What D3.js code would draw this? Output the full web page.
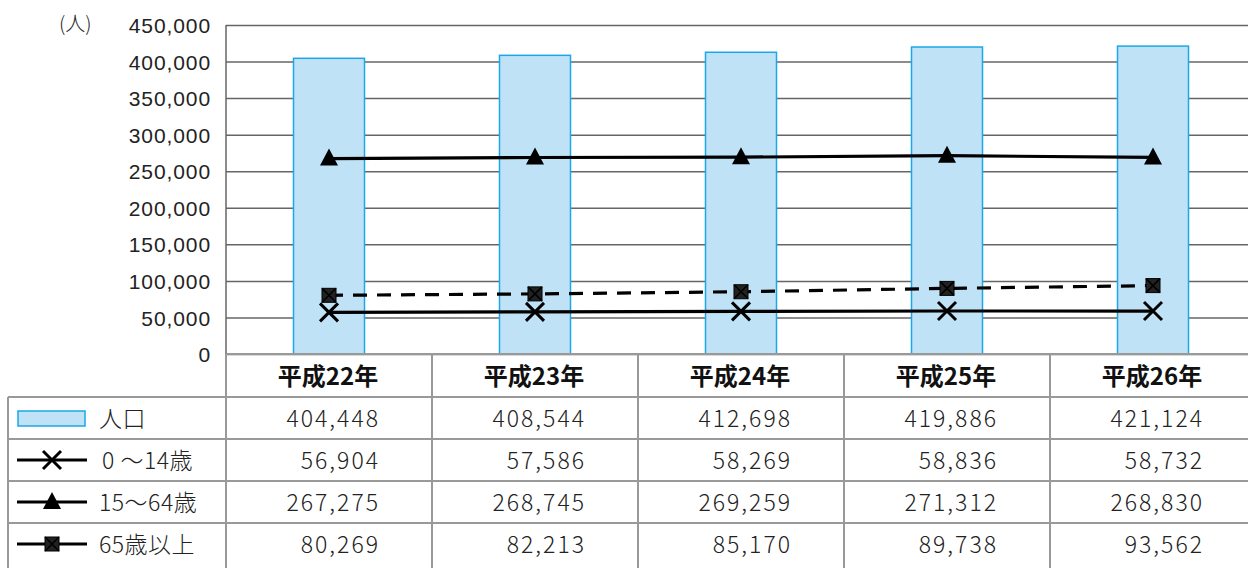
<!DOCTYPE html>
<html>
<head>
<meta charset="UTF-8">
<title>人口の推移</title>
<script src="https://d3js.org/d3.v7.min.js"></script>
<style>
  body { margin: 0; background: #fff; }
  svg { font-family: "Noto Sans CJK JP", "Noto Sans", sans-serif; }
  .grid line { stroke: #666; stroke-width: 1.5; }
  .grid path { display: none; }
  .grid .tick text { font-size: 21px; fill: #222; font-weight: 300; letter-spacing: 0.9px; }
  .num { font-weight: 300; letter-spacing: 2px; }
</style>
</head>
<body>
<svg width="1248" height="568"></svg>
<script>
  // データ
  var years = ["平成22年", "平成23年", "平成24年", "平成25年", "平成26年"]
  var total = [404448, 408544, 412698, 419886, 421124]
  var age0_14 = [56904, 57586, 58269, 58836, 58732]
  var age15_64 = [267275, 268745, 269259, 271312, 268830]
  var age65 = [80269, 82213, 85170, 89738, 93562]
  var yTicks = [0, 50000, 100000, 150000, 200000, 250000, 300000, 350000, 400000, 450000]

  var svg = d3.select("svg")
  var pLeft = 226, pRight = 1256, pTop = 25, pBottom = 354
  var rowH = 42, headH = 43

  var x = d3.scaleBand().domain(years).range([pLeft, pRight])
  var y = d3.scaleLinear().domain([0, 450000]).range([pBottom, pTop])

  // グリッドと軸
  svg.append("g")
    .attr("class", "grid")
    .attr("transform", "translate(" + pLeft + ",0)")
    .call(d3.axisLeft(y).tickValues(yTicks).tickSize(-(pRight - pLeft)).tickPadding(16)
      .tickFormat(d3.format(",")))
    .call(function(g) { g.selectAll(".tick text").attr("x", -15).attr("dy", "0.36em") })

  svg.append("line").attr("x1", pLeft).attr("x2", pLeft).attr("y1", pTop).attr("y2", pBottom)
    .attr("stroke", "#666").attr("stroke-width", 1.5)

  svg.append("text").attr("x", 59).attr("y", 31).attr("font-size", 20).attr("font-weight", 300)
    .attr("fill", "#222").text("(人)")

  // 棒（人口）
  var bw = 71
  svg.selectAll("rect.bar")
    .data(total)
    .enter().append("rect")
    .attr("class", "bar")
    .attr("x", function(d, i) { return x(years[i]) + x.bandwidth() / 2 - bw / 2 })
    .attr("width", bw)
    .attr("y", function(d) { return y(d) })
    .attr("height", function(d) { return pBottom - y(d) })
    .attr("fill", "#bfe2f7")
    .attr("stroke", "#1ba8e6")
    .attr("stroke-width", 1.5)

  var cx = function(d, i) { return x(years[i]) + x.bandwidth() / 2 }
  var line = d3.line().x(cx).y(function(d) { return y(d) })

  function drawLine(data, dash) {
    svg.append("path").datum(data)
      .attr("d", line)
      .attr("fill", "none")
      .attr("stroke", "#000")
      .attr("stroke-width", 3.2)
      .attr("stroke-dasharray", dash ? "14,10" : null)
  }
  drawLine(age65, true)
  drawLine(age0_14, false)
  drawLine(age15_64, false)

  // マーカー
  function markX(g, px, py) {
    var s = 9
    g.append("path").attr("d", "M" + (px - s) + "," + (py - s) + "L" + (px + s) + "," + (py + s) +
      "M" + (px + s) + "," + (py - s) + "L" + (px - s) + "," + (py + s))
      .attr("stroke", "#000").attr("stroke-width", 3).attr("fill", "none")
  }
  function markTri(g, px, py) {
    g.append("path").attr("d", "M" + px + "," + (py - 10) + "L" + (px + 9) + "," + (py + 7) + "L" + (px - 9) + "," + (py + 7) + "Z")
      .attr("fill", "#000")
  }
  function markSq(g, px, py) {
    var s = 7
    g.append("rect").attr("x", px - s).attr("y", py - s).attr("width", 2 * s).attr("height", 2 * s)
      .attr("fill", "#222").attr("stroke", "#000").attr("stroke-width", 1)
    g.append("path").attr("d", "M" + (px - s) + "," + (py - s) + "L" + (px + s) + "," + (py + s) +
      "M" + (px + s) + "," + (py - s) + "L" + (px - s) + "," + (py + s))
      .attr("stroke", "#000").attr("stroke-width", 1.5)
  }
  var mk = svg.append("g")
  age65.forEach(function(d, i) { markSq(mk, cx(d, i), y(d)) })
  age0_14.forEach(function(d, i) { markX(mk, cx(d, i), y(d)) })
  age15_64.forEach(function(d, i) { markTri(mk, cx(d, i), y(d)) })

  // データテーブル
  var tb = svg.append("g")
  var tLeft = 8
  var rows = [
    { name: "人口", vals: total, type: "bar" },
    { name: "0 ～14歳", vals: age0_14, type: "x" },
    { name: "15～64歳", vals: age15_64, type: "tri" },
    { name: "65歳以上", vals: age65, type: "sq" }
  ]
  var gridC = "#999"
  tb.append("line").attr("x1", pLeft).attr("x2", pRight).attr("y1", pBottom).attr("y2", pBottom)
    .attr("stroke", gridC).attr("stroke-width", 2)
  years.forEach(function(yr) {
    tb.append("line").attr("x1", x(yr)).attr("x2", x(yr)).attr("y1", pBottom).attr("y2", 568)
      .attr("stroke", gridC).attr("stroke-width", 2)
    tb.append("text").attr("x", x(yr) + x.bandwidth() / 2 - 1).attr("y", pBottom + 31)
      .attr("text-anchor", "middle").attr("font-size", 24).attr("font-weight", "bold").attr("fill", "#111")
      .text(yr)
  })
  tb.append("line").attr("x1", tLeft).attr("x2", tLeft).attr("y1", pBottom + headH).attr("y2", 568)
    .attr("stroke", gridC).attr("stroke-width", 2)

  rows.forEach(function(r, k) {
    var ry = pBottom + headH + k * rowH
    tb.append("line").attr("x1", tLeft).attr("x2", pRight).attr("y1", ry).attr("y2", ry)
      .attr("stroke", gridC).attr("stroke-width", 2)
    var my = ry + rowH / 2
    if (r.type == "bar") {
      tb.append("rect").attr("x", 18).attr("y", my - 7).attr("width", 67).attr("height", 15)
        .attr("fill", "#bfe2f7").attr("stroke", "#1ba8e6").attr("stroke-width", 1.5)
    } else {
      tb.append("line").attr("x1", 17).attr("x2", 87).attr("y1", my).attr("y2", my)
        .attr("stroke", "#000").attr("stroke-width", 3)
      if (r.type == "x") markX(tb, 52, my)
      if (r.type == "tri") markTri(tb, 52, my)
      if (r.type == "sq") markSq(tb, 52, my)
    }
    tb.append("text").attr("class", "num").attr("x", r.type == "x" ? 102 : 99).attr("y", my + 9)
      .attr("font-size", 23).attr("fill", "#222").style("letter-spacing", "0.5px").text(r.name)
    r.vals.forEach(function(v, i) {
      tb.append("text").attr("class", "num").attr("x", x(years[i]) + 154).attr("y", my + 9)
        .attr("text-anchor", "end").attr("font-size", 23).attr("fill", "#222")
        .text(d3.format(",")(v))
    })
  })
</script>
</body>
</html>
